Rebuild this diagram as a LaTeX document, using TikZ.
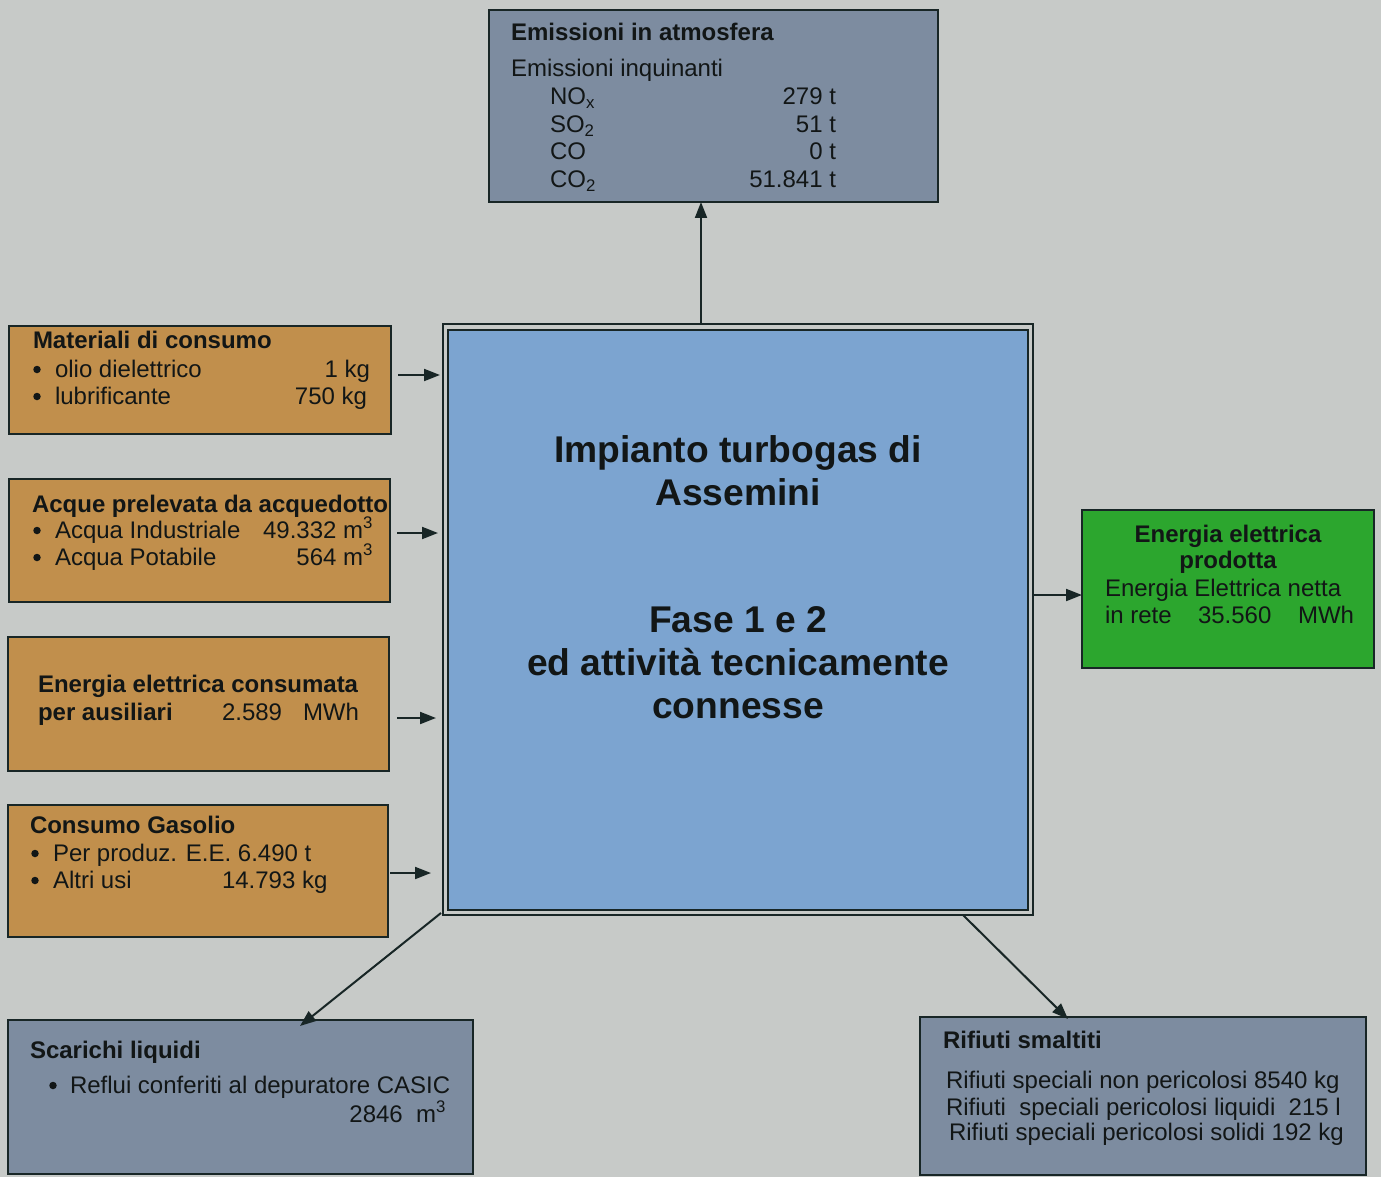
\documentclass[tikz,border=0pt]{standalone}
\usepackage{fontspec}
\setmainfont{Liberation Sans}
\usetikzlibrary{arrows.meta}
\definecolor{bg}{RGB}{199,202,200}
\definecolor{orangebox}{RGB}{193,143,76}
\definecolor{greybox}{RGB}{125,140,160}
\definecolor{bluebox}{RGB}{124,164,208}
\definecolor{greenbox}{RGB}{44,166,46}
\definecolor{ink}{RGB}{18,22,22}
\definecolor{edge}{RGB}{24,38,38}
\tikzset{
  box/.style={rectangle, draw=edge, line width=2pt, inner sep=0pt, outer sep=0pt, anchor=north west},
  obox/.style={box, fill=orangebox},
  gbox/.style={box, fill=greybox},
  txt/.style={inner sep=0pt, outer sep=0pt, text=ink, font=\fontsize{24}{27.6}\selectfont},
  btxt/.style={txt, font=\fontsize{24}{27.6}\selectfont\bfseries},
  bdot/.style={circle, fill=ink, inner sep=0pt, outer sep=0pt, minimum size=7.5pt},
  big/.style={inner sep=0pt, outer sep=0pt, text=ink, anchor=base, font=\fontsize{37.2}{42.7}\selectfont\bfseries},
  arr/.style={draw=edge, line width=2pt, -{Triangle[length=16pt,width=12pt]}}
}
\begin{document}
\begin{tikzpicture}[x=1pt,y=-1pt]
\path[use as bounding box, fill=bg] (0,0) rectangle (1381,1177);

% boxes
\node[gbox, minimum width=449pt, minimum height=192pt] (emis) at (489,10) {};
\node[obox, minimum width=382pt, minimum height=108pt] (mat) at (9,326) {};
\node[obox, minimum width=381pt, minimum height=123pt] (acq) at (9,479) {};
\node[obox, minimum width=381pt, minimum height=134pt] (ene) at (8,637) {};
\node[obox, minimum width=380pt, minimum height=132pt] (gas) at (8,805) {};
\node[box, fill=bg, minimum width=590pt, minimum height=591pt] (mainout) at (443,324) {};
\node[box, fill=bluebox, minimum width=580pt, minimum height=580pt] (main) at (448,330) {};
\node[box, fill=greenbox, minimum width=292pt, minimum height=158pt] (prod) at (1082,510) {};
\node[gbox, minimum width=465pt, minimum height=154pt] (scar) at (8,1020) {};
\node[gbox, minimum width=446pt, minimum height=158pt] (rif) at (920,1017) {};

% emissioni
\node[btxt, anchor=base west] (e1) at (511,41) {Emissioni in atmosfera};
\node[txt, anchor=base west] (e2) at (511,77) {Emissioni inquinanti};
\node[txt, anchor=base west] (e3) at (550,105) {NO\textsubscript{x}};
\node[txt, anchor=base west] (e4) at (550,133) {SO\textsubscript{2}};
\node[txt, anchor=base west] (e5) at (550,160) {CO};
\node[txt, anchor=base west] (e6) at (550,188) {CO\textsubscript{2}};
\node[txt, anchor=base east] (e7) at (836,105) {279 t};
\node[txt, anchor=base east] (e8) at (836,133) {51 t};
\node[txt, anchor=base east] (e9) at (836,160) {0 t};
\node[txt, anchor=base east] (e10) at (836,188) {51.841 t};

% materiali
\node[btxt, anchor=base west] (m1) at (33,348) {Materiali di consumo};
\node[bdot] (m2b) at (37,369.5) {};
\node[txt, anchor=base west] (m2) at (55,377) {olio dielettrico};
\node[txt, anchor=base east] (m2v) at (370,377) {1 kg};
\node[bdot] (m3b) at (37,396.5) {};
\node[txt, anchor=base west] (m3) at (55,404) {lubrificante};
\node[txt, anchor=base east] (m3v) at (367,404) {750 kg};

% acque
\node[btxt, anchor=base west] (a1) at (32,512) {Acque prelevata da acquedotto};
\node[bdot] (a2b) at (37,530.5) {};
\node[txt, anchor=base west] (a2) at (55,538) {Acqua Industriale};
\node[txt, anchor=base east] (a2v) at (373,538) {49.332 m\textsuperscript{3}};
\node[bdot] (a3b) at (37,557.5) {};
\node[txt, anchor=base west] (a3) at (55,565) {Acqua Potabile};
\node[txt, anchor=base east] (a3v) at (373,565) {564 m\textsuperscript{3}};

% energia consumata
\node[btxt, anchor=base west] (c1) at (38,692) {Energia elettrica consumata};
\node[btxt, anchor=base west] (c2) at (38,720) {per ausiliari};
\node[txt, anchor=base west] (c2v) at (222,720) {2.589};
\node[txt, anchor=base west] (c2u) at (303,720) {MWh};

% gasolio
\node[btxt, anchor=base west] (g1) at (30,833) {Consumo Gasolio};
\node[bdot] (g2b) at (35,853.5) {};
\node[txt, anchor=base west] (g2) at (53,861) {Per produz. E.E. 6.490 t};
\node[bdot] (g3b) at (35,880.5) {};
\node[txt, anchor=base west] (g3) at (53,888) {Altri usi};
\node[txt, anchor=base west] (g3v) at (222,888) {14.793 kg};

% central
\node[big] (t1) at (738,462) {Impianto turbogas di};
\node[big] (t2) at (738,505) {Assemini};
\node[big] (t3) at (738,632) {Fase 1 e 2};
\node[big] (t4) at (738,675) {ed attività tecnicamente};
\node[big] (t5) at (738,718) {connesse};

% prodotta
\node[btxt, anchor=base] (p1) at (1228,542) {Energia elettrica};
\node[btxt, anchor=base] (p2) at (1228,568) {prodotta};
\node[txt, anchor=base west] (p3) at (1105,596) {Energia Elettrica netta};
\node[txt, anchor=base west] (p4) at (1105,623) {in rete};
\node[txt, anchor=base west] (p4v) at (1198,623) {35.560};
\node[txt, anchor=base west] (p4u) at (1298,623) {MWh};

% scarichi
\node[btxt, anchor=base west] (s1) at (30,1058) {Scarichi liquidi};
\node[bdot] (s2b) at (53,1085.5) {};
\node[txt, anchor=base west] (s2) at (70,1093) {Reflui conferiti al depuratore CASIC};
\node[txt, anchor=base east] (s3) at (446,1122) {2846\ \ m\textsuperscript{3}};

% rifiuti
\node[btxt, anchor=base west] (r1) at (943,1048) {Rifiuti smaltiti};
\node[txt, anchor=base west] (r2) at (946,1088) {Rifiuti speciali non pericolosi 8540 kg};
\node[txt, anchor=base west] (r3) at (946,1115) {Rifiuti\ \ speciali pericolosi liquidi\ \ 215 l};
\node[txt, anchor=base west] (r4) at (949,1140) {Rifiuti speciali pericolosi solidi 192 kg};

% connectors
\coordinate (upS) at (701,322);
\coordinate (upE) at (701,203);
\draw[arr] (mainout.north -| upS) -- (emis.south -| upE);
\draw[arr, shorten <=7pt, shorten >=3pt] (mat.east |- 0,375) -- (mainout.west |- 0,375);
\draw[arr, shorten <=7pt, shorten >=5pt] (acq.east |- 0,533) -- (mainout.west |- 0,533);
\draw[arr, shorten <=8pt, shorten >=7pt] (ene.east |- 0,718) -- (mainout.west |- 0,718);
\draw[arr, shorten <=2pt, shorten >=12pt] (gas.east |- 0,873) -- (mainout.west |- 0,873);
\draw[arr] (mainout.east |- 0,595) -- (prod.west |- 0,595);
\coordinate (dlS) at (441,913);
\coordinate (dlE) at (300,1026);
\draw[arr] (dlS) -- (dlE);
\coordinate (drS) at (963,915);
\coordinate (drE) at (1068,1019);
\draw[arr] (drS) -- (drE);
\end{tikzpicture}
\end{document}
